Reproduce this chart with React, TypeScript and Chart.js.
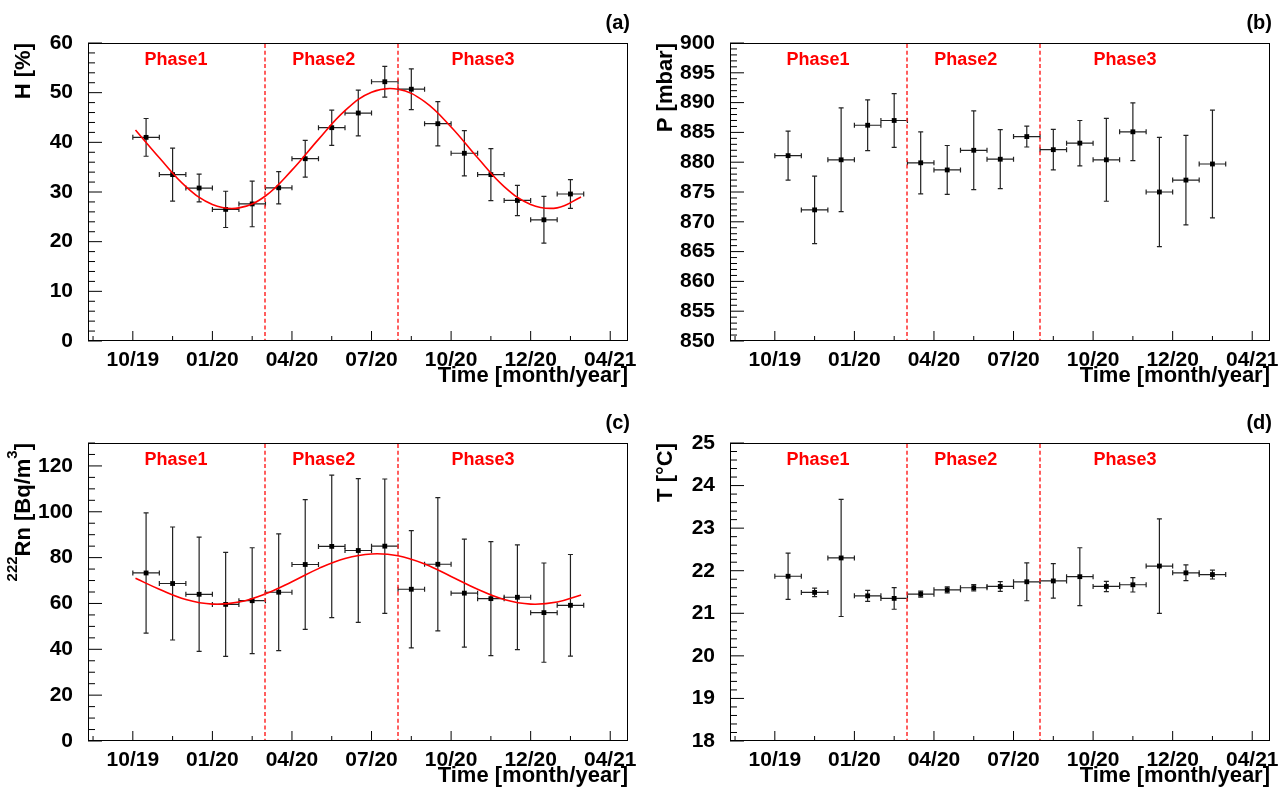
import React, { useEffect, useRef } from "react";
import { Chart, registerables } from "chart.js";

Chart.register(...registerables);

const FONT = "'Liberation Sans', Arial, Helvetica, sans-serif";

// ---- x axis (months since October 2019) ----
const xMin = -1.69;
const xMax = 18.67;
const monthTickValues = [0, 3, 6, 9, 12, 15, 18];
const monthTickLabels = ["10/19", "01/20", "04/20", "07/20", "10/20", "12/20", "04/21"];
const monthMinorStep = 1.5;
const binCenters = [0.5, 1.5, 2.5, 3.5, 4.5, 5.5, 6.5, 7.5, 8.5, 9.5, 10.5, 11.5, 12.5, 13.5, 14.5, 15.5, 16.5];
const binHalfWidth = 0.5;
const phaseBoundaries = [5, 10];
const phaseNames = ["Phase1", "Phase2", "Phase3"];
const phaseLabelX = [1.63, 7.2, 13.2];

// ---- (a) humidity ----
const humidity = [41.0, 33.5, 30.8, 26.5, 27.6, 30.85, 36.7, 42.95, 45.9, 52.2, 50.7, 43.75, 37.8, 33.5, 28.3, 24.4, 29.6];
const humidityErr = [3.8, 5.35, 2.8, 3.65, 4.6, 3.25, 3.7, 3.55, 4.6, 3.1, 4.1, 4.45, 4.55, 5.25, 3.05, 4.7, 2.9];
const fitX = [0.1, 1, 2, 3, 4, 5, 6, 7, 8, 9, 10, 11, 12, 13, 14, 15, 16, 16.9];
const humidityFit = [42.5, 36.9, 31.1, 27.5, 26.8, 29.2, 34.4, 40.6, 46.4, 50.1, 50.7, 48.2, 43.1, 36.9, 31.1, 27.5, 26.8, 29.0];
const humidityTicks = [0, 10, 20, 30, 40, 50, 60];

// ---- (b) pressure ----
const pressure = [881.1, 872.0, 880.4, 886.2, 887.0, 879.9, 878.7, 882.0, 880.5, 884.3, 882.1, 883.2, 880.4, 885.1, 875.0, 877.0, 879.7];
const pressureErr = [4.1, 5.65, 8.7, 4.25, 4.5, 5.2, 4.1, 6.6, 4.95, 1.75, 3.4, 3.8, 6.95, 4.85, 9.15, 7.5, 9.05];
const pressureTicks = [850, 855, 860, 865, 870, 875, 880, 885, 890, 895, 900];

// ---- (c) radon ----
const radon = [73.3, 68.7, 64.0, 59.6, 61.2, 64.9, 77.0, 84.9, 83.1, 85.0, 66.2, 77.1, 64.5, 62.1, 62.7, 56.0, 59.2];
const radonErr = [26.2, 24.65, 24.9, 22.7, 23.1, 25.5, 28.3, 31.05, 31.35, 29.3, 25.6, 29.1, 23.55, 24.85, 22.85, 21.65, 22.15];
const radonFit = [71.0, 66.2, 61.7, 59.7, 60.6, 64.2, 69.5, 75.2, 79.6, 81.6, 80.8, 77.2, 71.8, 66.2, 61.7, 59.7, 60.6, 63.7];
const radonTicks = [0, 20, 40, 60, 80, 100, 120];

// ---- (d) temperature ----
const temperature = [21.87, 21.49, 22.3, 21.41, 21.35, 21.45, 21.55, 21.6, 21.63, 21.74, 21.76, 21.86, 21.63, 21.67, 22.11, 21.95, 21.91];
const temperatureErr = [0.545, 0.1, 1.375, 0.13, 0.255, 0.07, 0.07, 0.075, 0.115, 0.445, 0.405, 0.68, 0.12, 0.17, 1.11, 0.185, 0.105];
const temperatureTicks = [18, 19, 20, 21, 22, 23, 24, 25];

type TitlePart = { text: string; sup?: boolean };
type PanelSpec = {
  tag: string;
  values: number[];
  errors: number[];
  fit?: number[];
  yMin: number;
  yMax: number;
  yTicks: number[];
  yMinorStep: number;
  yTitle: TitlePart[];
};

const panels: PanelSpec[] = [
  { tag: "(a)", values: humidity, errors: humidityErr, fit: humidityFit, yMin: 0, yMax: 60, yTicks: humidityTicks, yMinorStep: 2, yTitle: [{ text: "H [%]" }] },
  { tag: "(b)", values: pressure, errors: pressureErr, yMin: 850, yMax: 900, yTicks: pressureTicks, yMinorStep: 1, yTitle: [{ text: "P [mbar]" }] },
  {
    tag: "(c)", values: radon, errors: radonErr, fit: radonFit, yMin: 0, yMax: 130, yTicks: radonTicks, yMinorStep: 5,
    yTitle: [{ text: "222", sup: true }, { text: "Rn [Bq/m" }, { text: "3", sup: true }, { text: "]" }],
  },
  { tag: "(d)", values: temperature, errors: temperatureErr, yMin: 18, yMax: 25, yTicks: temperatureTicks, yMinorStep: 0.2, yTitle: [{ text: "T [°C]" }] },
];

const CHART_LEFT = 88;
const CHART_RIGHT = 628;
const CHART_TOP = 43;
const CHART_BOTTOM = 341;

function makeRootPlugin(spec: PanelSpec) {
  return {
    id: "rootStyle",
    beforeDatasetsDraw(chart: any) {
      const { ctx } = chart;
      const xs = chart.scales.x;
      const ys = chart.scales.y;
      ctx.save();
      ctx.strokeStyle = "#222";
      ctx.lineWidth = 1.2;
      spec.values.forEach((v, i) => {
        const cx = xs.getPixelForValue(binCenters[i]);
        const cy = ys.getPixelForValue(v);
        const x0 = xs.getPixelForValue(binCenters[i] - binHalfWidth);
        const x1 = xs.getPixelForValue(binCenters[i] + binHalfWidth);
        const y0 = ys.getPixelForValue(v - spec.errors[i]);
        const y1 = ys.getPixelForValue(v + spec.errors[i]);
        const c = 2.5;
        ctx.beginPath();
        ctx.moveTo(x0, cy);
        ctx.lineTo(x1, cy);
        ctx.moveTo(cx, y0);
        ctx.lineTo(cx, y1);
        ctx.moveTo(x0, cy - c);
        ctx.lineTo(x0, cy + c);
        ctx.moveTo(x1, cy - c);
        ctx.lineTo(x1, cy + c);
        ctx.moveTo(cx - c, y0);
        ctx.lineTo(cx + c, y0);
        ctx.moveTo(cx - c, y1);
        ctx.lineTo(cx + c, y1);
        ctx.stroke();
      });
      ctx.restore();
    },
    afterDraw(chart: any) {
      const { ctx, chartArea } = chart;
      const xs = chart.scales.x;
      const ys = chart.scales.y;
      const { left, right, top, bottom } = chartArea;
      ctx.save();

      // phase boundaries
      ctx.strokeStyle = "rgba(255, 40, 40, 0.75)";
      ctx.lineWidth = 2;
      ctx.setLineDash([4, 2.7]);
      phaseBoundaries.forEach((b) => {
        const px = Math.round(xs.getPixelForValue(b));
        ctx.beginPath();
        ctx.moveTo(px, top + 1);
        ctx.lineTo(px, bottom);
        ctx.stroke();
      });
      ctx.setLineDash([]);

      // frame
      ctx.strokeStyle = "#000";
      ctx.lineWidth = 1;
      ctx.strokeRect(left + 0.5, top + 0.5, right - left - 1, bottom - top - 1);

      // x ticks (inside)
      ctx.beginPath();
      for (let k = -1; ; k++) {
        const v = k * monthMinorStep;
        if (v > xMax) break;
        if (v < xMin) continue;
        const px = xs.getPixelForValue(v);
        const major = monthTickValues.includes(v);
        ctx.moveTo(px, bottom);
        ctx.lineTo(px, bottom - (major ? 10 : 5));
      }
      // y ticks (inside)
      const nMinor = Math.round((spec.yMax - spec.yMin) / spec.yMinorStep);
      for (let k = 0; k <= nMinor; k++) {
        const v = spec.yMin + k * spec.yMinorStep;
        const py = ys.getPixelForValue(v);
        const major = spec.yTicks.some((t) => Math.abs(t - v) < 1e-6);
        ctx.moveTo(left, py);
        ctx.lineTo(left + (major ? 14 : 7), py);
      }
      ctx.stroke();

      // phase labels
      ctx.fillStyle = "#ff0000";
      ctx.font = `bold 18px ${FONT}`;
      ctx.textAlign = "center";
      ctx.textBaseline = "middle";
      phaseNames.forEach((name, i) => {
        ctx.fillText(name, xs.getPixelForValue(phaseLabelX[i]), top + 17);
      });

      // panel tag
      ctx.fillStyle = "#000";
      ctx.font = `bold 20px ${FONT}`;
      ctx.textAlign = "right";
      ctx.textBaseline = "alphabetic";
      ctx.fillText(spec.tag, 630, 29);

      // x title
      ctx.font = `bold 22px ${FONT}`;
      ctx.textAlign = "right";
      ctx.fillText("Time [month/year]", right, bottom + 41);

      // y title (rotated, aligned to top)
      const mainFont = `bold 22px ${FONT}`;
      const supFont = `bold 15px ${FONT}`;
      let total = 0;
      spec.yTitle.forEach((p) => {
        ctx.font = p.sup ? supFont : mainFont;
        total += ctx.measureText(p.text).width;
      });
      ctx.translate(30, top);
      ctx.rotate(-Math.PI / 2);
      ctx.textAlign = "left";
      let pos = -total;
      spec.yTitle.forEach((p) => {
        ctx.font = p.sup ? supFont : mainFont;
        ctx.fillText(p.text, pos, p.sup ? -13 : 0);
        pos += ctx.measureText(p.text).width;
      });

      ctx.restore();
    },
  };
}

function buildConfig(spec: PanelSpec, width: number, height: number): any {
  const datasets: any[] = [];
  if (spec.fit) {
    datasets.push({
      type: "line",
      data: fitX.map((x, i) => ({ x, y: spec.fit![i] })),
      borderColor: "#ff0000",
      borderWidth: 1.6,
      pointRadius: 0,
      tension: 0.4,
      fill: false,
    });
  }
  datasets.push({
    type: "scatter",
    data: binCenters.map((x, i) => ({ x, y: spec.values[i] })),
    pointStyle: "rect",
    pointRadius: 3.4,
    backgroundColor: "#000",
    borderColor: "#000",
    borderWidth: 0,
  });
  const tickFont = { family: FONT, size: 21, weight: "bold" as const };
  return {
    type: "scatter",
    data: { datasets },
    options: {
      responsive: false,
      animation: false,
      events: [],
      layout: { padding: { left: 0, top: CHART_TOP, right: width - CHART_RIGHT, bottom: 0 } },
      plugins: { legend: { display: false }, tooltip: { enabled: false }, title: { display: false } },
      scales: {
        x: {
          type: "linear",
          min: xMin,
          max: xMax,
          grid: { display: false },
          border: { display: false },
          afterBuildTicks: (s: any) => {
            s.ticks = monthTickValues.map((v) => ({ value: v }));
          },
          afterFit: (s: any) => {
            s.height = height - CHART_BOTTOM;
          },
          ticks: {
            autoSkip: false,
            maxRotation: 0,
            minRotation: 0,
            padding: -1,
            color: "#000",
            font: tickFont,
            callback: (_v: any, i: number) => monthTickLabels[i],
          },
        },
        y: {
          type: "linear",
          min: spec.yMin,
          max: spec.yMax,
          grid: { display: false },
          border: { display: false },
          afterBuildTicks: (s: any) => {
            s.ticks = spec.yTicks.map((v) => ({ value: v }));
          },
          afterFit: (s: any) => {
            s.width = CHART_LEFT;
          },
          ticks: {
            padding: 7,
            color: "#000",
            font: tickFont,
            callback: (_v: any, i: number) => String(spec.yTicks[i]),
          },
        },
      },
    },
    plugins: [makeRootPlugin(spec)],
  };
}

function Panel({ spec, left, top, width, height }: { spec: PanelSpec; left: number; top: number; width: number; height: number }) {
  const ref = useRef<HTMLCanvasElement>(null);
  useEffect(() => {
    const chart = new Chart(ref.current as HTMLCanvasElement, buildConfig(spec, width, height));
    return () => chart.destroy();
  }, []);
  return (
    <canvas
      ref={ref}
      width={width}
      height={height}
      style={{ position: "absolute", left, top, width, height, display: "block" }}
    />
  );
}

export default function App() {
  return (
    <div style={{ position: "absolute", left: 0, top: 0, width: 1285, height: 796, overflow: "hidden", background: "#fff" }}>
      <Panel spec={panels[0]} left={0} top={0} width={642} height={398} />
      <Panel spec={panels[1]} left={642} top={0} width={643} height={398} />
      <Panel spec={panels[2]} left={0} top={400} width={642} height={396} />
      <Panel spec={panels[3]} left={642} top={400} width={643} height={396} />
    </div>
  );
}
